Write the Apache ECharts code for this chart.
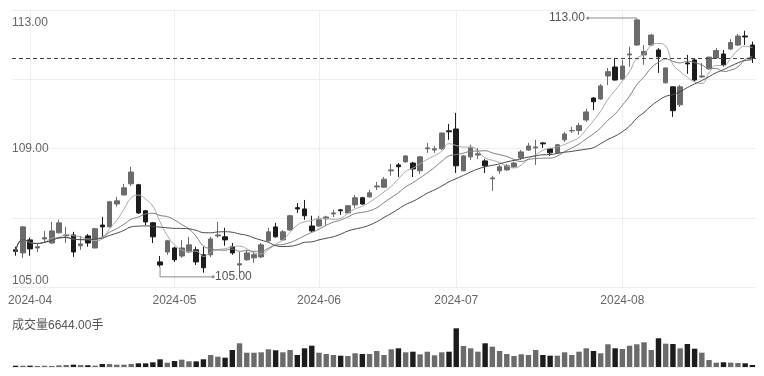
<!DOCTYPE html>
<html>
<head>
<meta charset="utf-8">
<title>K线</title>
<script src="https://cdn.jsdelivr.net/npm/echarts/dist/echarts.min.js"></script>
<style>
  html, body { margin: 0; padding: 0; background: #fff; }
  #kChart { width: 764px; height: 376px; }
</style>
</head>
<body>
<div id="kChart"></div>
<script>
// 交易日
var dates = [
  "2024-03-28", "2024-03-29",
  "2024-04-01", "2024-04-02", "2024-04-03", "2024-04-08", "2024-04-09", "2024-04-10", "2024-04-11", "2024-04-12",
  "2024-04-15", "2024-04-16", "2024-04-17", "2024-04-18", "2024-04-19", "2024-04-22", "2024-04-23", "2024-04-24",
  "2024-04-25", "2024-04-26", "2024-04-29", "2024-04-30",
  "2024-05-06", "2024-05-07", "2024-05-08", "2024-05-09", "2024-05-10", "2024-05-13", "2024-05-14", "2024-05-15",
  "2024-05-16", "2024-05-17", "2024-05-20", "2024-05-21", "2024-05-22", "2024-05-23", "2024-05-24", "2024-05-27",
  "2024-05-28", "2024-05-29", "2024-05-30", "2024-05-31",
  "2024-06-03", "2024-06-04", "2024-06-05", "2024-06-06", "2024-06-07", "2024-06-11", "2024-06-12", "2024-06-13",
  "2024-06-14", "2024-06-17", "2024-06-18", "2024-06-19", "2024-06-20", "2024-06-21", "2024-06-24", "2024-06-25",
  "2024-06-26", "2024-06-27", "2024-06-28",
  "2024-07-01", "2024-07-02", "2024-07-03", "2024-07-04", "2024-07-05", "2024-07-08", "2024-07-09", "2024-07-10",
  "2024-07-11", "2024-07-12", "2024-07-15", "2024-07-16", "2024-07-17", "2024-07-18", "2024-07-19", "2024-07-22",
  "2024-07-23", "2024-07-24", "2024-07-25", "2024-07-26", "2024-07-29", "2024-07-30", "2024-07-31",
  "2024-08-01", "2024-08-02", "2024-08-05", "2024-08-06", "2024-08-07", "2024-08-08", "2024-08-09", "2024-08-12",
  "2024-08-13", "2024-08-14", "2024-08-15", "2024-08-16", "2024-08-19", "2024-08-20", "2024-08-21", "2024-08-22",
  "2024-08-23", "2024-08-26", "2024-08-27"
];
// 开盘
var openP = [
  105.55, 105.45, 105.87, 105.61, 105.90, 105.77, 106.10, 106.00, 106.03, 105.68,
  106.00, 105.61, 106.35, 106.29, 107.03, 107.32, 107.68, 107.65, 106.81, 106.42,
  105.16, 105.48, 105.61, 105.35, 105.48, 105.55, 105.39, 105.39, 106.00, 105.97,
  105.65, 105.06, 105.23, 105.29, 105.32, 105.84, 106.29, 105.87, 106.19, 106.91,
  106.87, 106.32, 106.32, 106.55, 106.71, 106.84, 106.74, 107.00, 107.23, 107.26,
  107.58, 107.57, 108.10, 108.29, 108.39, 108.35, 108.10, 108.81, 108.77, 108.81,
  109.39, 109.45, 108.10, 108.55, 108.61, 108.42, 107.84, 108.10, 108.13, 108.23,
  108.52, 108.77, 108.84, 109.00, 108.81, 108.68, 109.10, 109.39, 109.40, 109.74,
  110.45, 110.42, 111.16, 111.45, 111.06, 111.84, 112.16, 111.84, 112.16, 112.00,
  110.94, 110.81, 110.23, 111.58, 111.68, 111.13, 111.39, 111.74, 111.87, 112.03,
  112.16, 112.45, 112.16
];
// 收盘
var closeP = [
  105.50, 106.29, 105.58, 105.65, 105.94, 106.16, 106.42, 106.03, 105.48, 105.74,
  105.77, 106.23, 106.29, 107.10, 107.13, 107.55, 108.06, 106.74, 106.45, 105.97,
  105.06, 105.84, 105.23, 105.61, 105.71, 105.16, 104.97, 105.90, 106.03, 105.87,
  105.45, 105.10, 105.45, 105.39, 105.71, 106.13, 105.97, 106.13, 106.65, 106.87,
  106.65, 106.16, 106.52, 106.61, 106.74, 106.81, 106.97, 107.23, 107.03, 107.39,
  107.61, 107.83, 108.13, 108.23, 108.58, 108.16, 108.55, 108.84, 108.81, 109.32,
  109.36, 108.26, 108.58, 108.84, 108.65, 108.26, 107.87, 108.23, 108.26, 108.35,
  108.71, 108.90, 108.87, 108.97, 108.68, 108.94, 109.29, 109.40, 109.56, 110.00,
  110.33, 110.84, 111.30, 111.03, 111.48, 111.87, 112.97, 111.95, 112.48, 111.78,
  111.42, 110.04, 110.81, 111.55, 111.03, 111.16, 111.77, 111.98, 111.52, 112.24,
  112.45, 112.42, 111.74
];
// 最低
var lowP = [
  105.36, 105.29, 105.36, 105.48, 105.77, 105.75, 106.08, 105.77, 105.32, 105.55,
  105.65, 105.60, 105.97, 106.28, 106.94, 107.31, 107.61, 106.71, 106.35, 105.77,
  105.00, 105.39, 105.16, 105.29, 105.45, 105.06, 104.81, 105.32, 105.94, 105.68,
  105.39, 104.74, 105.19, 105.13, 105.29, 105.81, 105.94, 105.84, 106.16, 106.74,
  106.52, 106.13, 106.29, 106.35, 106.61, 106.68, 106.72, 106.90, 107.00, 107.23,
  107.48, 107.55, 107.94, 107.90, 108.36, 107.90, 108.00, 108.68, 108.68, 108.77,
  109.10, 108.03, 108.09, 108.45, 108.48, 108.03, 107.45, 108.00, 108.10, 108.19,
  108.45, 108.74, 108.29, 108.84, 108.58, 108.65, 109.03, 109.32, 109.26, 109.68,
  110.06, 110.39, 110.87, 111.01, 111.03, 111.46, 112.13, 111.52, 112.13, 111.26,
  110.92, 109.84, 110.16, 111.23, 110.98, 111.10, 111.36, 111.71, 111.46, 112.00,
  112.13, 112.16, 111.58
];
// 最高
var highP = [
  105.65, 106.32, 105.94, 105.77, 106.16, 106.45, 106.52, 106.29, 106.13, 106.00,
  106.06, 106.26, 106.61, 107.13, 107.26, 107.68, 108.23, 107.68, 106.84, 106.45,
  105.35, 105.87, 105.65, 105.87, 105.97, 105.65, 105.65, 105.97, 106.45, 106.26,
  105.77, 105.48, 105.55, 105.48, 105.77, 106.26, 106.42, 106.19, 106.68, 107.06,
  107.16, 106.65, 106.65, 106.65, 106.84, 106.87, 107.00, 107.32, 107.26, 107.48,
  107.74, 107.90, 108.32, 108.35, 108.61, 108.39, 108.58, 109.00, 108.90, 109.33,
  109.61, 109.97, 108.61, 108.94, 108.84, 108.48, 107.94, 108.29, 108.32, 108.39,
  108.77, 109.00, 109.10, 109.03, 108.84, 108.97, 109.36, 109.52, 109.65, 110.10,
  110.48, 110.90, 111.42, 111.71, 111.68, 112.11, 113.00, 112.16, 112.52, 112.06,
  111.43, 110.82, 110.87, 111.84, 111.74, 111.58, 111.78, 112.06, 112.00, 112.35,
  112.52, 112.62, 112.27
];
// 成交量(手)
var volumes = [
  4300, 4300, 4400, 3400, 4200, 3500, 5600, 6700, 7700, 6500,
  5800, 4500, 10000, 9800, 7600, 7800, 10200, 12300, 12100, 15600,
  25600, 14400, 20000, 24300, 19000, 18800, 25700, 40000, 34300, 31000,
  56700, 79000, 47700, 47600, 49000, 59000, 55700, 49000, 56700, 40000,
  62300, 71000, 47700, 43300, 40000, 37700, 36700, 45700, 43300, 43300,
  53300, 40000, 59000, 62300, 49000, 51000, 42300, 51000, 39000, 49000,
  51000, 129000, 70000, 62300, 51000, 79000, 67700, 53300, 43300, 36700,
  42300, 40000, 56700, 40000, 37700, 37700, 49000, 40000, 51000, 62300,
  53300, 45700, 75700, 62300, 60000, 71000, 75700, 82300, 56700, 95700,
  77700, 76700, 62300, 76700, 61000, 47700, 23300, 14300, 15700, 14300,
  13300, 12300, 6644
];
// 价格轴文字，对应四等分的网格线
var yTickLabels = ["105.00", "", "109.00", "", "113.00"];
var maDays = [5, 10, 20];
var maColors = ["#a8a8a8", "#7e7e7e", "#474747"];
// 最高、最低标注所在的交易日下标
var markHighIdx = 86;
var markLowIdx = 20;

var upColor = "#6b6b6b";
var downColor = "#1c1c1c";
var fontColor = "#666";
var fontFamily = '"Liberation Sans", "Noto Sans CJK SC", sans-serif';

function calcMA(n) {
  var res = [];
  for (var i = 0; i < closeP.length; i++) {
    var start = Math.max(0, i - n + 1);
    var sum = 0;
    for (var j = start; j <= i; j++) sum += closeP[j];
    res.push(+(sum / (i - start + 1)).toFixed(3));
  }
  return res;
}

function isMonthStart(i) {
  return i > 0 && dates[i].slice(0, 7) !== dates[i - 1].slice(0, 7);
}

var kData = dates.map(function (d, i) {
  return [openP[i], closeP[i], lowP[i], highP[i]];
});
var volData = volumes.map(function (v, i) {
  return { value: v, itemStyle: { color: closeP[i] >= openP[i] ? upColor : downColor } };
});
var lastClose = closeP[closeP.length - 1];
var lastVol = volumes[volumes.length - 1];

var kChart = echarts.init(document.getElementById("kChart"));

var series = [
  {
    name: "K线",
    type: "candlestick",
    xAxisIndex: 0,
    yAxisIndex: 0,
    data: kData,
    barWidth: "70%",
    itemStyle: {
      color: upColor,
      color0: downColor,
      borderColor: upColor,
      borderColor0: downColor,
      borderWidth: 1,
    },
    markLine: {
      silent: true,
      symbol: ["none", "none"],
      label: { show: false },
      lineStyle: { color: "#444", type: [4, 3], width: 1 },
      data: [{ yAxis: lastClose }],
    },
  },
];
maDays.forEach(function (n, k) {
  series.push({
    name: "MA" + n,
    type: "line",
    xAxisIndex: 0,
    yAxisIndex: 0,
    data: calcMA(n),
    smooth: true,
    showSymbol: false,
    lineStyle: { width: 1, color: maColors[k] },
    itemStyle: { color: maColors[k] },
  });
});
series.push({
  name: "成交量",
  type: "bar",
  xAxisIndex: 1,
  yAxisIndex: 2,
  data: volData,
  barWidth: "75%",
});

var option = {
  animation: false,
  backgroundColor: "#fff",
  textStyle: { fontFamily: fontFamily },
  grid: [
    { left: 12, right: 8, top: 10, height: 277, outerBoundsMode: "none" },
    { left: 12, right: 8, top: 313, height: 54, outerBoundsMode: "none" },
  ],
  xAxis: [
    {
      type: "category",
      gridIndex: 0,
      data: dates,
      boundaryGap: true,
      axisLine: { show: false },
      axisTick: { show: false },
      axisLabel: {
        interval: function (i) { return isMonthStart(i); },
        formatter: function (v) { return v.slice(0, 7); },
        color: fontColor,
        fontSize: 12,
        margin: 8,
      },
      splitLine: {
        show: true,
        interval: function (i) { return isMonthStart(i); },
        alignWithLabel: true,
        lineStyle: { color: "#eeeeee", width: 1 },
      },
    },
    {
      type: "category",
      gridIndex: 1,
      data: dates,
      boundaryGap: true,
      position: "top",
      axisLine: { show: true, lineStyle: { color: "#eeeeee" } },
      axisTick: { show: false },
      axisLabel: { show: false },
      splitLine: { show: false },
    },
  ],
  yAxis: [
    { type: "value", gridIndex: 0, min: 104.35, max: 113.29, show: false },
    {
      type: "value",
      gridIndex: 0,
      min: 0,
      max: 4,
      interval: 1,
      position: "left",
      axisLine: { show: false },
      axisTick: { show: false },
      axisLabel: {
        inside: true,
        margin: 0,
        color: fontColor,
        fontSize: 12,
        formatter: function (v) {
          var t = yTickLabels[v] || "";
          // 顶部文字稍微往下放
          return v === 4 ? "{top|" + t + "}" : t;
        },
        rich: {
          top: { padding: [7, 0, 0, 0], color: fontColor, fontSize: 12, fontFamily: fontFamily },
        },
        verticalAlignMinLabel: "bottom",
        verticalAlignMaxLabel: "top",
      },
      splitLine: { show: true, lineStyle: { color: "#eeeeee", width: 1 } },
    },
    { type: "value", gridIndex: 1, min: 0, max: 180000, show: false },
  ],
  series: series,
};
kChart.setOption(option);

// 最高/最低价标注
var markColor = "#8c8c8c";
var pHigh = kChart.convertToPixel({ xAxisIndex: 0, yAxisIndex: 0 }, [markHighIdx, highP[markHighIdx]]);
var pLow = kChart.convertToPixel({ xAxisIndex: 0, yAxisIndex: 0 }, [markLowIdx, lowP[markLowIdx]]);
var hy = pHigh[1] - 1;
var ly = pLow[1] + 10;
kChart.setOption({
  graphic: [
    {
      type: "polyline",
      silent: true,
      shape: { points: [[pHigh[0], pHigh[1]], [pHigh[0], hy], [pHigh[0] - 49, hy]] },
      style: { stroke: markColor, lineWidth: 1, fill: null },
    },
    { type: "circle", silent: true, shape: { cx: pHigh[0] - 49, cy: hy, r: 1.5 }, style: { fill: markColor } },
    {
      type: "text",
      silent: true,
      x: pHigh[0] - 52,
      y: hy,
      style: {
        text: highP[markHighIdx].toFixed(2),
        fill: "#555",
        font: "12px " + fontFamily,
        align: "right",
        verticalAlign: "middle",
      },
    },
    {
      type: "polyline",
      silent: true,
      shape: { points: [[pLow[0], pLow[1]], [pLow[0], ly], [pLow[0] + 53, ly]] },
      style: { stroke: markColor, lineWidth: 1, fill: null },
    },
    { type: "circle", silent: true, shape: { cx: pLow[0] + 53, cy: ly, r: 1.5 }, style: { fill: markColor } },
    {
      type: "text",
      silent: true,
      x: pLow[0] + 55,
      y: ly,
      style: {
        text: lowP[markLowIdx].toFixed(2),
        fill: "#555",
        font: "12px " + fontFamily,
        align: "left",
        verticalAlign: "middle",
      },
    },
    {
      type: "text",
      silent: true,
      x: 12,
      y: 326,
      style: {
        text: "成交量" + lastVol.toFixed(2) + "手",
        fill: "#555",
        font: "12px " + fontFamily,
        align: "left",
        verticalAlign: "middle",
      },
    },
  ],
});
</script>
</body>
</html>
